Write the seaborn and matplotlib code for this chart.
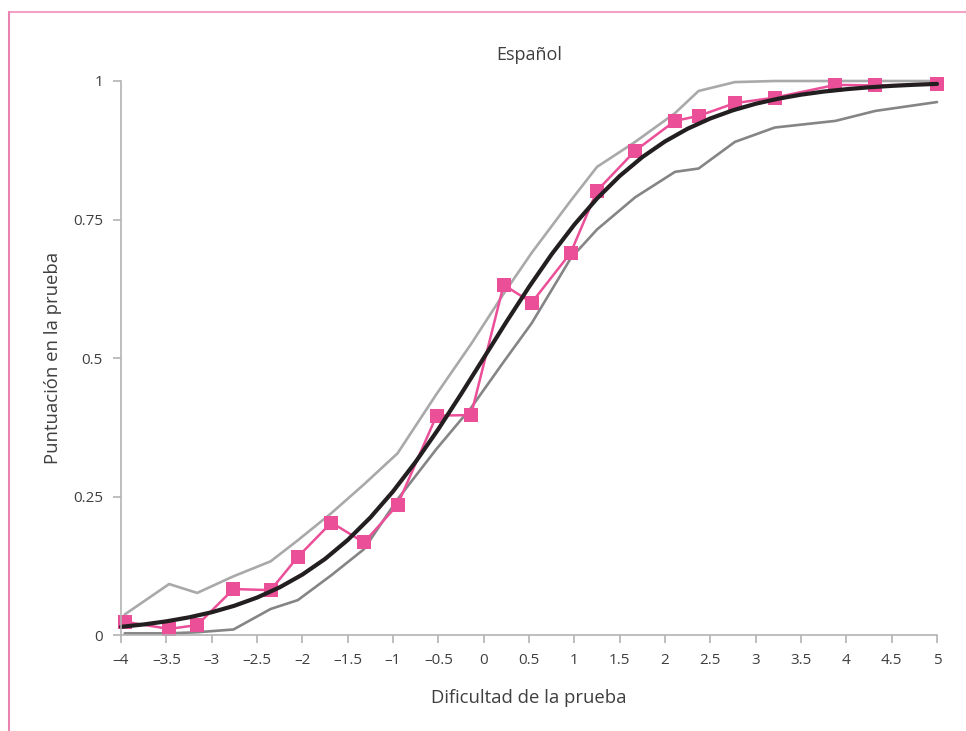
import matplotlib
matplotlib.use("Agg")
import matplotlib.pyplot as plt
from matplotlib.lines import Line2D
import seaborn as sns
import pandas as pd

# Item difficulty positions and observed scores (pink series)
dificultad = [-3.96, -3.47, -3.16, -2.76, -2.35, -2.05, -1.68, -1.32, -0.95, -0.52,
              -0.14, 0.22, 0.53, 0.96, 1.25, 1.67, 2.11, 2.37, 2.77, 3.21, 3.88, 4.32, 5.0]
observado = [0.024, 0.011, 0.018, 0.083, 0.081, 0.141, 0.203, 0.167, 0.235, 0.396,
             0.397, 0.632, 0.600, 0.690, 0.802, 0.874, 0.928, 0.937, 0.960, 0.970,
             0.993, 0.992, 0.994]
# Confidence band limits at the same positions
limite_superior = [0.037, 0.092, 0.076, 0.106, 0.133, 0.171, 0.220, 0.272, 0.328, 0.435,
                   0.525, 0.616, 0.690, 0.784, 0.845, 0.890, 0.942, 0.982, 0.998, 1.0,
                   1.0, 1.0, 1.0]
limite_inferior = [0.003, 0.003, 0.005, 0.010, 0.047, 0.063, 0.108, 0.155, 0.245, 0.336,
                   0.410, 0.493, 0.563, 0.680, 0.732, 0.790, 0.836, 0.842, 0.890, 0.916,
                   0.928, 0.946, 0.962]
# Expected score curve
curva_x = [-4.0, -3.75, -3.5, -3.25, -3.0, -2.75, -2.5, -2.25, -2.0, -1.75, -1.5, -1.25,
           -1.0, -0.75, -0.5, -0.25, 0.0, 0.25, 0.5, 0.75, 1.0, 1.25, 1.5, 1.75, 2.0,
           2.25, 2.5, 2.75, 3.0, 3.25, 3.5, 3.75, 4.0, 4.25, 4.5, 4.75, 5.0]
curva_y = [0.0148, 0.0191, 0.0247, 0.0319, 0.0411, 0.0528, 0.0676, 0.0861, 0.1091, 0.1373,
           0.1715, 0.2121, 0.2592, 0.3127, 0.3717, 0.4348, 0.5, 0.5652, 0.6283, 0.6873,
           0.7408, 0.7879, 0.8285, 0.8627, 0.8909, 0.9139, 0.9324, 0.9472, 0.9589, 0.9681,
           0.9753, 0.9809, 0.9852, 0.9886, 0.9912, 0.9932, 0.9948]

x_ticks = [-4, -3.5, -3, -2.5, -2, -1.5, -1, -0.5, 0, 0.5, 1, 1.5, 2, 2.5, 3, 3.5, 4, 4.5, 5]
x_labels = ["–4", "–3.5", "–3", "–2.5", "–2", "–1.5", "–1", "–0.5", "0", "0.5", "1",
            "1.5", "2", "2.5", "3", "3.5", "4", "4.5", "5"]
y_ticks = [0, 0.25, 0.5, 0.75, 1]
y_labels = ["0", "0.25", "0.5", "0.75", "1"]

sns.set_theme(style="white")
plt.rcParams["font.family"] = ["Open Sans", "DejaVu Sans"]

texto = "#3f3f3f"
eje = "#b3b3b3"

fig = plt.figure(figsize=(9.66, 7.31), dpi=100)
ax = fig.add_axes([0.1253, 0.1313, 0.8447, 0.7579])

banda = pd.DataFrame({"x": dificultad, "sup": limite_superior, "inf": limite_inferior,
                      "obs": observado})
curva = pd.DataFrame({"x": curva_x, "y": curva_y})

sns.lineplot(data=banda, x="x", y="sup", ax=ax, color="#a9a9ab", linewidth=1.9,
             clip_on=False)
sns.lineplot(data=banda, x="x", y="inf", ax=ax, color="#858587", linewidth=1.9,
             clip_on=False)
sns.lineplot(data=banda, x="x", y="obs", ax=ax, color="#ea4f98", linewidth=1.8,
             marker="s", markersize=10, markeredgewidth=0, clip_on=False)
sns.lineplot(data=curva, x="x", y="y", ax=ax, color="#231f20", linewidth=3.0,
             clip_on=False)

ax.set_xlim(-4, 5)
ax.set_ylim(0, 1)
ax.set_xticks(x_ticks)
ax.set_xticklabels(x_labels)
ax.set_yticks(y_ticks)
ax.set_yticklabels(y_labels)

for s in ["top", "right"]:
    ax.spines[s].set_visible(False)
for s in ["left", "bottom"]:
    ax.spines[s].set_color(eje)
    ax.spines[s].set_linewidth(1.2)

ax.tick_params(axis="both", which="major", direction="out", length=6, width=1.2,
               color=eje, labelsize=11, labelcolor=texto, pad=7,
               left=True, bottom=True)

ax.set_title("Español", fontsize=13, color=texto, pad=15)
ax.set_xlabel("Dificultad de la prueba", fontsize=13.3, color=texto, labelpad=15)
ax.set_ylabel("Puntuación en la prueba", fontsize=13.3, color=texto, labelpad=8)
ax.grid(False)

# Pink frame along the top and left edges of the figure
fig.add_artist(Line2D([9 / 966, 1.0], [1 - 12 / 731, 1 - 12 / 731],
                      transform=fig.transFigure, color="#f2a3c3", linewidth=1.5))
fig.add_artist(Line2D([9 / 966, 9 / 966], [0.0, 1 - 12 / 731],
                      transform=fig.transFigure, color="#e983b0", linewidth=1.5))

fig.savefig("out.png", dpi=100)
